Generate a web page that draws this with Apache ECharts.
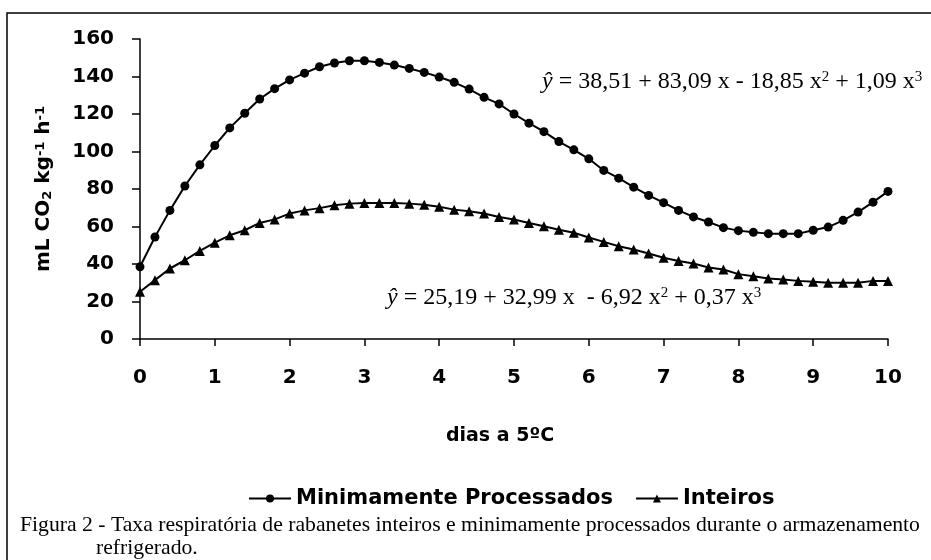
<!DOCTYPE html>
<html>
<head>
<meta charset="utf-8">
<script src="https://cdn.jsdelivr.net/npm/echarts@6/dist/echarts.min.js"></script>
<style>html,body{margin:0;padding:0;background:#fff}#c{width:931px;height:560px}</style>
</head>
<body>
<div id="c"></div>
<script>
const days = [0,0.2,0.4,0.6,0.8,1,1.2,1.4,1.6,1.8,2,2.2,2.4,2.6,2.8,3,3.2,3.4,3.6,3.8,4,4.2,4.4,4.6,4.8,5,5.2,5.4,5.6,5.8,6,6.2,6.4,6.6,6.8,7,7.2,7.4,7.6,7.8,8,8.2,8.4,8.6,8.8,9,9.2,9.4,9.6,9.8,10];
const minimamente = [38.5,54.4,68.6,81.6,92.9,103.2,112.6,120.4,128.0,133.5,138.2,141.8,145.2,147.2,148.4,148.4,147.5,146.1,144.3,142.2,139.7,136.9,133.3,128.9,125.4,120.0,115.1,110.6,105.3,100.9,96.1,89.9,85.8,81.0,76.6,72.7,68.6,65.1,62.4,59.4,57.8,56.9,56.2,56.2,56.2,58.0,59.7,63.3,67.7,73.0,78.7];
const inteiros = [25.2,31.4,37.6,42.0,47.0,51.4,55.3,58.0,61.9,63.8,66.9,68.6,69.8,71.3,72.2,72.5,72.5,72.5,72.2,71.6,70.5,69.0,68.1,66.9,65.1,63.7,61.9,60.1,58.3,56.7,54.1,51.8,49.5,47.7,45.6,43.3,41.6,40.3,38.1,37.1,34.6,33.5,32.3,31.7,31.0,30.5,30.0,30.0,30.0,31.0,31.0];
const seriesNames = ['Minimamente Processados','Inteiros'];
const xTitle = 'dias a 5ºC';
const yTitle = '{t|mL CO}{sub|2}{t| kg}{sup|-1}{t| h}{sup|-1}';
const eq1 = '{i|ŷ}{t| = 38,51 + 83,09 x - 18,85 x}{s|2}{t| + 1,09 x}{s|3}';
const eq2 = '{i|ŷ}{t| = 25,19 + 32,99 x  - 6,92 x}{s|2}{t| + 0,37 x}{s|3}';
const caption1 = 'Figura 2 - Taxa respiratória de rabanetes inteiros e minimamente processados durante o armazenamento';
const caption2 = 'refrigerado.';

const sans = 'DejaVu Sans, Liberation Sans, Arial, sans-serif';
const serif = 'Liberation Serif, Times New Roman, serif';
const eqRich = {
  i: {fontFamily: serif, fontSize: 24, fontStyle: 'italic', color: '#000'},
  t: {fontFamily: serif, fontSize: 24, color: '#000'},
  s: {fontFamily: serif, fontSize: 15, color: '#000', verticalAlign: 'top'}
};

const chart = echarts.init(document.getElementById('c'), null, {renderer: 'canvas'});
chart.setOption({
  animation: false,
  backgroundColor: '#fff',
  grid: {left: 140, right: 43, top: 39, bottom: 221, containLabel: false},
  legend: {
    data: seriesNames,
    left: 243, top: 483,
    itemWidth: 42, itemHeight: 10, itemGap: 22,
    textStyle: {fontFamily: sans, fontWeight: 'bold', fontSize: 21, color: '#000'}
  },
  xAxis: {
    type: 'value', min: 0, max: 10, interval: 1,
    axisLine: {lineStyle: {color: '#000', width: 1.5}},
    axisTick: {show: true, length: 7, lineStyle: {color: '#000', width: 1.5}},
    splitLine: {show: false},
    axisLabel: {margin: 29, fontFamily: sans, fontWeight: 'bold', fontSize: 20, color: '#000'}
  },
  yAxis: {
    type: 'value', min: 0, max: 160, interval: 20,
    name: yTitle, nameLocation: 'middle', nameGap: 86, nameRotate: 90,
    nameTextStyle: {
      rich: {
        t: {fontFamily: sans, fontWeight: 'bold', fontSize: 20, color: '#000'},
        sub: {fontFamily: sans, fontWeight: 'bold', fontSize: 13, color: '#000', verticalAlign: 'bottom'},
        sup: {fontFamily: sans, fontWeight: 'bold', fontSize: 13, color: '#000', verticalAlign: 'top'}
      }
    },
    axisLine: {show: true, lineStyle: {color: '#000', width: 1.5}},
    axisTick: {show: true, length: 8, lineStyle: {color: '#000', width: 1.5}},
    splitLine: {show: false},
    axisLabel: {margin: 26, fontFamily: sans, fontWeight: 'bold', fontSize: 20, color: '#000'}
  },
  series: [
    {
      name: seriesNames[0], type: 'line',
      data: days.map((d, i) => [d, minimamente[i]]),
      symbol: 'circle', symbolSize: 9,
      lineStyle: {color: '#000', width: 2},
      itemStyle: {color: '#000'}
    },
    {
      name: seriesNames[1], type: 'line',
      data: days.map((d, i) => [d, inteiros[i]]),
      symbol: 'triangle', symbolSize: 10,
      lineStyle: {color: '#000', width: 2},
      itemStyle: {color: '#000'}
    }
  ],
  graphic: [
    {type: 'rect', silent: true, z: -1, shape: {x: 7, y: 13, width: 940, height: 600},
     style: {fill: null, stroke: '#000', lineWidth: 1.5}},
    {type: 'text', x: 542, y: 82, style: {text: eq1, rich: eqRich, verticalAlign: 'middle', align: 'left'}},
    {type: 'text', x: 387, y: 298, style: {text: eq2, rich: eqRich, verticalAlign: 'middle', align: 'left'}},
    {type: 'text', x: 500, y: 436, style: {text: xTitle, fontFamily: sans, fontWeight: 'bold', fontSize: 19, fill: '#000', align: 'center', verticalAlign: 'middle'}},
    {type: 'text', x: 20, y: 525, style: {text: caption1, fontFamily: serif, fontSize: 21.7, fill: '#000', align: 'left', verticalAlign: 'middle'}},
    {type: 'text', x: 96, y: 548, style: {text: caption2, fontFamily: serif, fontSize: 21.7, fill: '#000', align: 'left', verticalAlign: 'middle'}}
  ]
});
</script>
</body>
</html>
